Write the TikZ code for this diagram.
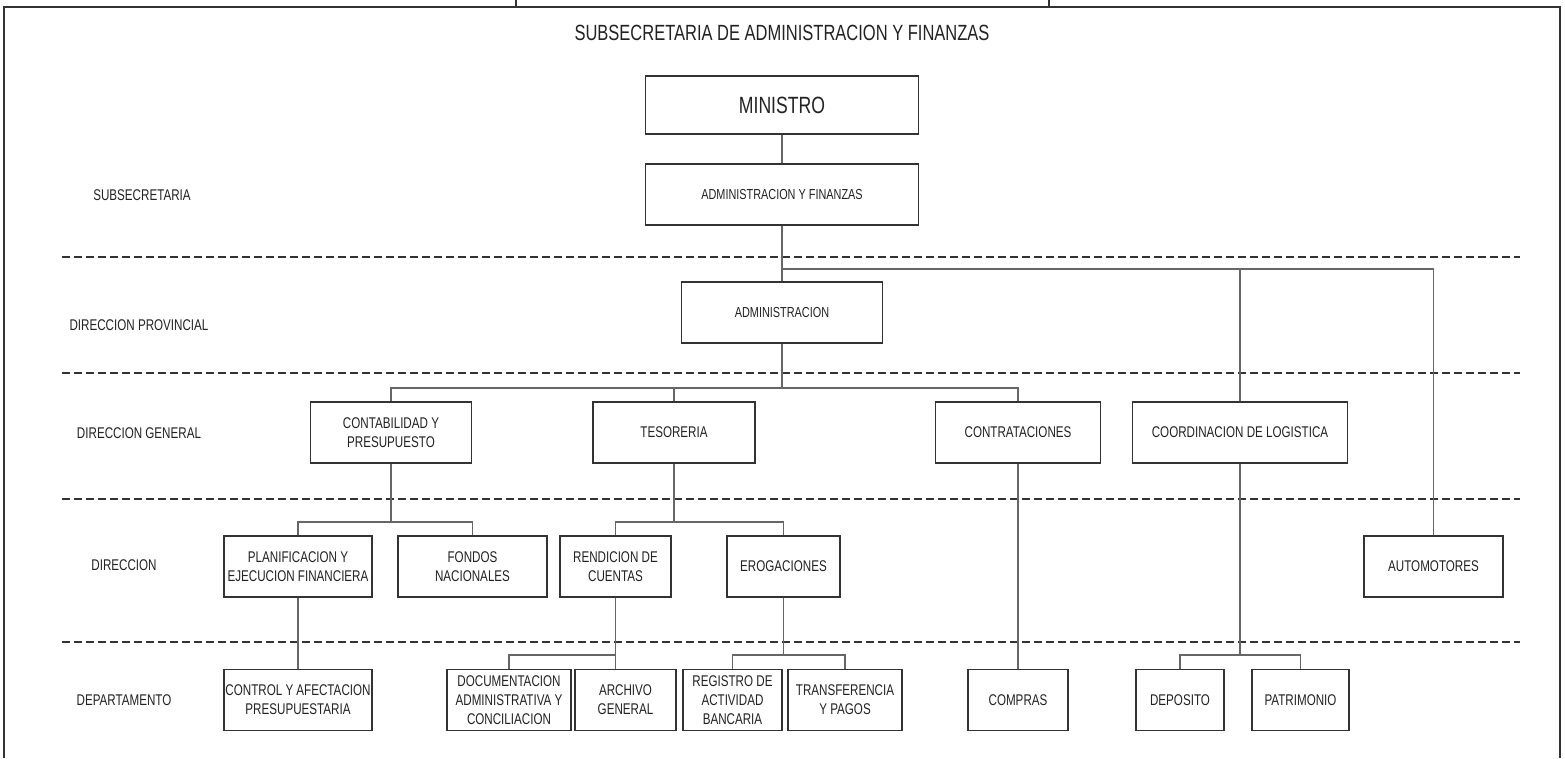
\documentclass[tikz,border=0pt]{standalone}
\usepackage{xcolor}
\usepackage{fontspec}
\setmainfont{Liberation Sans}[FakeStretch=0.75]
\usepackage{tikz}

\definecolor{boxline}{HTML}{333333}
\definecolor{linkline}{HTML}{666666}
\definecolor{inktext}{HTML}{222222}

\begin{document}
\begin{tikzpicture}[x=1pt,y=-1pt,-,auto,
      main node/.style={rectangle,draw=boxline,line width=1.6,minimum height=61,
        align=center,inner sep=1,text=inktext,font=\fontsize{15.5}{19}\selectfont},
      level node/.style={text=inktext,font=\fontsize{15.5}{19}\selectfont},
      band line/.style={draw=boxline,dashed,line width=1.6,dash pattern=on 8 off 4},
      hv/.style={to path={-| (\tikztotarget)}}]

    \useasboundingbox (0,0) rectangle (1565,758);

    % frame
    \draw[line width=2.6,draw=boxline] (4,758) -- (4,7) -- (1560,7) -- (1560,758);
    \draw[line width=1.4,draw=boxline] (516,0) -- (516,7) (1049,0) -- (1049,7);

    \node[text=inktext,font=\fontsize{22}{26}\selectfont] (t) at (782,33)
        {SUBSECRETARIA DE ADMINISTRACION Y FINANZAS};

    % levels
    \node[level node] (l1) at (142,195) {SUBSECRETARIA};
    \node[level node] (l2) at (139,325) {DIRECCION PROVINCIAL};
    \node[level node] (l3) at (139,433) {DIRECCION GENERAL};
    \node[level node] (l4) at (124,565) {DIRECCION};
    \node[level node] (l5) at (124,700) {DEPARTAMENTO};

    \foreach \y in {257,373,499,642}
        \draw[band line] (62,\y) -- (1520,\y);

    % boxes
    \node[main node,minimum width=273,minimum height=58,font=\fontsize{23.5}{26}\selectfont]
        (1) at (782,105) {MINISTRO};
    \node[main node,minimum width=273,font=\fontsize{14.5}{18}\selectfont]
        (2) at (782,194.5) {ADMINISTRACION Y FINANZAS};
    \node[main node,minimum width=201,font=\fontsize{14.5}{18}\selectfont]
        (3) at (782,312.5) {ADMINISTRACION};

    \node[main node,minimum width=161] (5) at (391,432.5) {CONTABILIDAD Y\\PRESUPUESTO};
    \node[main node,minimum width=162] (6) at (674,432.5) {TESORERIA};
    \node[main node,minimum width=165] (7) at (1018,432.5) {CONTRATACIONES};
    \node[main node,minimum width=215] (8) at (1240,432.5) {COORDINACION DE LOGISTICA};

    \node[main node,minimum width=148] (9) at (298,566.5) {PLANIFICACION Y\\EJECUCION FINANCIERA};
    \node[main node,minimum width=149] (10) at (472.5,566.5) {FONDOS\\NACIONALES};
    \node[main node,minimum width=111] (11) at (615.5,566.5) {RENDICION DE\\CUENTAS};
    \node[main node,minimum width=113] (12) at (783.5,566.5) {EROGACIONES};
    \node[main node,minimum width=139] (13) at (1433.5,566.5) {AUTOMOTORES};

    \node[main node,minimum width=148] (14) at (298,700) {CONTROL Y AFECTACION\\PRESUPUESTARIA};
    \node[main node,minimum width=124] (15) at (509,700) {DOCUMENTACION\\ADMINISTRATIVA Y\\CONCILIACION};
    \node[main node,minimum width=101] (16) at (625.5,700) {ARCHIVO\\GENERAL};
    \node[main node,minimum width=99] (17) at (732.5,700) {REGISTRO DE\\ACTIVIDAD\\BANCARIA};
    \node[main node,minimum width=114] (18) at (845,700) {TRANSFERENCIA\\Y PAGOS};
    \node[main node,minimum width=100] (19) at (1018,700) {COMPRAS};
    \node[main node,minimum width=88] (20) at (1180,700) {DEPOSITO};
    \node[main node,minimum width=97] (21) at (1300.5,700) {PATRIMONIO};

    % junctions
    \coordinate (j1) at (782,269);
    \coordinate (j2) at (782,388);
    \coordinate (j3) at (391,522);
    \coordinate (j4) at (674,522);
    \coordinate (j5) at (615.5,655);
    \coordinate (j6) at (783.5,655);
    \coordinate (j7) at (1240,655);

    \path[draw=linkline,line width=1.1]
        (1) edge (2)
        (2) edge (j1)
        (j1) edge[hv] (3)
        (j1) edge[hv] (8)
        (j1) edge[hv] (13)
        (3) edge (j2)
        (j2) edge[hv] (5)
        (j2) edge[hv] (6)
        (j2) edge[hv] (7)
        (5) edge (j3)
        (j3) edge[hv] (9)
        (j3) edge[hv] (10)
        (6) edge (j4)
        (j4) edge[hv] (11)
        (j4) edge[hv] (12)
        (9) edge (14)
        (11) edge (j5)
        (j5) edge[hv] (15)
        (j5) edge (j5 |- 16.north)
        (12) edge (j6)
        (j6) edge[hv] (17)
        (j6) edge[hv] (18)
        (7) edge (19)
        (8) edge (j7)
        (j7) edge[hv] (20)
        (j7) edge[hv] (21)
    ;
\end{tikzpicture}
\end{document}
